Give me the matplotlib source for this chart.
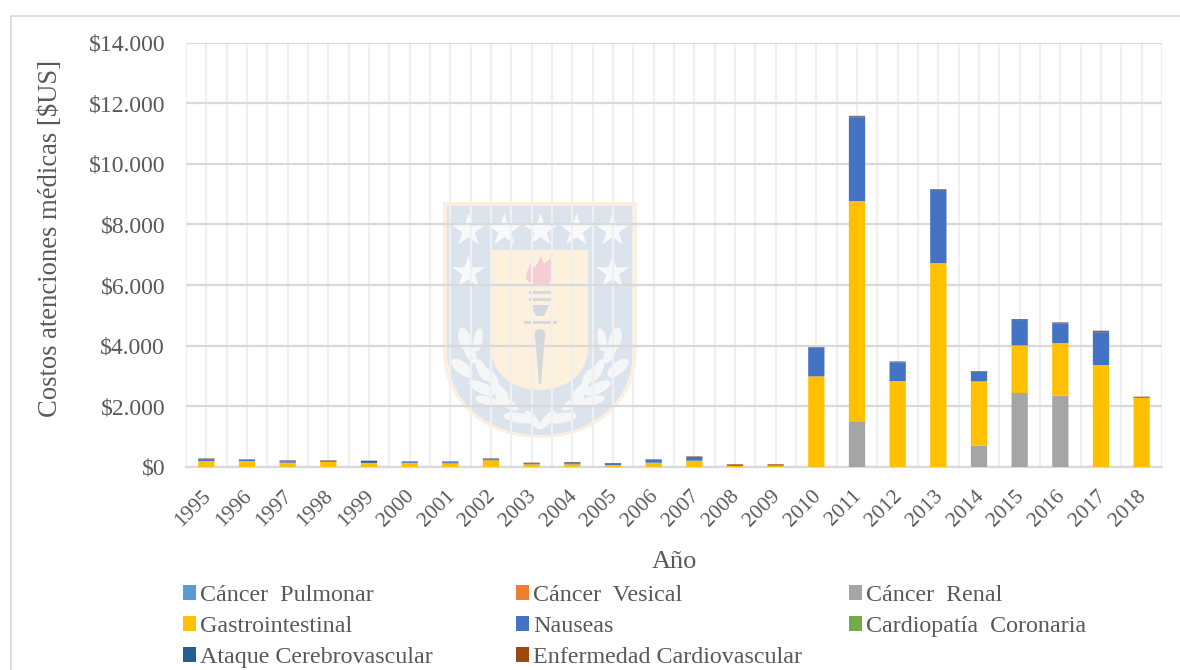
# Costos de atenciones médicas por año, barras apiladas con escudo de fondo

import numpy as np
import matplotlib
matplotlib.use("Agg")
import matplotlib.pyplot as plt
from matplotlib.patches import Ellipse, PathPatch, Polygon
from matplotlib.path import Path
from matplotlib.ticker import FuncFormatter
from matplotlib.transforms import ScaledTranslation

plt.rcParams["font.family"] = ["Liberation Serif", "DejaVu Serif"]

# 1. Datos
years = [str(y) for y in range(1995, 2019)]
renal = [0, 0, 0, 0, 0, 0, 0, 0, 0, 0, 0, 0, 0, 0, 0,
         0, 1484, 0, 0, 703, 2440, 2352, 0, 0]
gastro = [198, 198, 143, 165, 132, 132, 121, 220, 88, 88, 66, 143, 209, 33, 40,
          2989, 7285, 2835, 6725, 2121, 1571, 1736, 3363, 2286]
nauseas = [55, 33, 44, 22, 33, 22, 33, 33, 22, 33, 33, 88, 121, 5, 5,
           945, 2758, 615, 2385, 319, 813, 648, 1077, 0]
pulmonar = [0] * 24
vesical = [0] * 24
cardiopatia = [0] * 24
ataque = [22, 11, 22, 22, 33, 22, 22, 22, 22, 33, 22, 11, 11, 5, 5,
          12, 40, 25, 40, 17, 30, 25, 40, 23]
enfermedad = [11, 11, 11, 11, 11, 11, 11, 11, 11, 11, 11, 11, 11, 45, 38,
              10, 15, 8, 15, 5, 25, 12, 15, 10]

series = [
    ("Cáncer  Pulmonar", pulmonar, "#5B9BD5"),
    ("Cáncer  Vesical", vesical, "#ED7D31"),
    ("Cáncer  Renal", renal, "#A5A5A5"),
    ("Gastrointestinal", gastro, "#FFC000"),
    ("Nauseas", nauseas, "#4472C4"),
    ("Cardiopatía  Coronaria", cardiopatia, "#70AD47"),
    ("Ataque Cerebrovascular", ataque, "#255E91"),
    ("Enfermedad Cardiovascular", enfermedad, "#9E480E"),
]

W, H = 1180, 670
TEXT = "#595959"
GRID_MAJOR = "#D9D9D9"
GRID_MINOR = "#F0F0F0"

fig = plt.figure(figsize=(W / 100, H / 100), dpi=100)

# 2. Fondo en píxeles: marco (solo arriba e izquierda) y escudo
bg = fig.add_axes([0, 0, 1, 1], zorder=0)
bg.set_xlim(0, W)
bg.set_ylim(H, 0)
bg.axis("off")
bg.plot([10.5, 10.5, W], [H, 15.5, 15.5], color="#D9D9D9", lw=1.3)


def shield(x0, x1, top, side, bottom):
    xm = (x0 + x1) / 2
    verts = [(x0, top), (x1, top), (x1, side),
             (x1, side + (bottom - side) * 0.62), (xm + (x1 - xm) * 0.55, bottom), (xm, bottom),
             (xm - (xm - x0) * 0.55, bottom), (x0, side + (bottom - side) * 0.62), (x0, side),
             (x0, top)]
    codes = [Path.MOVETO, Path.LINETO, Path.LINETO,
             Path.CURVE4, Path.CURVE4, Path.CURVE4,
             Path.CURVE4, Path.CURVE4, Path.CURVE4, Path.CLOSEPOLY]
    return Path(verts, codes)


bg.add_patch(PathPatch(shield(443, 637, 202, 350, 438), fc="#FBF0DF", ec="none"))
bg.add_patch(PathPatch(shield(447, 633, 206, 350, 435), fc="#DBE3EC", ec="none"))
bg.add_patch(PathPatch(shield(491, 588, 250, 347, 390), fc="#FDF1DC", ec="none"))

# estrellas
bg.scatter([468, 504, 540, 576, 612, 468, 612], [230, 230, 230, 230, 230, 272, 272],
           marker="*", s=620, color="#F7F9FB", linewidths=0)

# antorcha
flame = [(527, 272), (531, 262), (535, 268), (541, 256), (544, 264), (552, 257),
         (553, 275), (549, 284), (532, 284), (526, 279)]
bg.add_patch(Polygon(flame, fc="#F6CDD3", ec="none"))
for yy, x0, x1 in [(292, 530, 550), (299, 530, 550), (322, 525, 555)]:
    bg.plot([x0, x1], [yy, yy], color="#D3D8DE", lw=2)
bg.fill([531, 549, 544, 536], [305, 305, 316, 316], color="#D3D8DE", lw=0)
bg.fill([535, 545, 541, 539], [335, 335, 384, 384], color="#D3D8DE", lw=0)
bg.add_patch(Ellipse((540, 335), 11, 12, fc="#D3D8DE", ec="none"))

# laureles
leaves = [(465, 340, 12, 26, -15), (478, 340, 9, 24, 10), (470, 352, 10, 24, -25),
          (462, 368, 12, 26, -50), (482, 370, 9, 24, -25), (492, 378, 9, 22, -30),
          (482, 388, 11, 28, -65), (500, 392, 10, 22, -45), (488, 401, 9, 26, -75),
          (507, 403, 9, 26, -60), (520, 418, 10, 34, -82), (533, 420, 8, 24, -40)]
for lx, ly, lw_, lh, ang in leaves:
    bg.add_patch(Ellipse((lx, ly), lw_, lh, angle=ang, fc="#F4F6F8", ec="none"))
    bg.add_patch(Ellipse((1080 - lx, ly), lw_, lh, angle=-ang, fc="#F4F6F8", ec="none"))

# 3. Gráfico principal
left, right, top, bottom = 186, 1162, 42.5, 467
ax = fig.add_axes([left / W, 1 - bottom / H, (right - left) / W, (bottom - top) / H], zorder=1)
ax.patch.set_alpha(0)

x = np.arange(len(years))
base = np.zeros(len(years))
bars = {}
for name, vals, color in series:
    bars[name] = ax.bar(x, vals, 0.4, bottom=base, color=color, label=name, zorder=3, snap=False)
    base += np.array(vals)

ax.set_xlim(-0.5, len(years) - 0.5)
ax.set_ylim(0, 14000)
ax.set_yticks(np.arange(0, 14001, 2000))
ax.yaxis.set_major_formatter(FuncFormatter(lambda v, _: "$" + f"{int(v):,}".replace(",", ".")))
ax.set_xticks(x)
ax.set_xticklabels(years, rotation=45, ha="right", rotation_mode="anchor")
ax.set_xticks(np.arange(-0.5, len(years)), minor=True)

ax.grid(axis="y", color=GRID_MAJOR, lw=1.6, zorder=1)
ax.grid(axis="x", which="major", color=GRID_MINOR, lw=1.6, zorder=1)
ax.grid(axis="x", which="minor", color=GRID_MINOR, lw=1.6, zorder=1)
ax.tick_params(axis="both", which="both", length=0)
ax.tick_params(axis="y", labelsize=17, labelcolor=TEXT, pad=15)
ax.tick_params(axis="x", labelsize=15.5, labelcolor=TEXT, pad=14)
# etiquetas del eje x un poco a la izquierda
shift = ScaledTranslation(-3.5 / 72, 0, fig.dpi_scale_trans)
for lab in ax.get_xticklabels():
    lab.set_transform(lab.get_transform() + shift)
for side in ["top", "left", "right"]:
    ax.spines[side].set_visible(False)
ax.spines["bottom"].set_color(GRID_MAJOR)
ax.spines["bottom"].set_linewidth(1.6)

fig.text(51 / W, 1 - 238.5 / H, "Costos atenciones médicas [$US]", rotation=90,
         ha="center", va="center", fontsize=19.2, color=TEXT)
fig.text(674 / W, 1 - 562 / H, "Año", ha="center", va="center", fontsize=19, color=TEXT)

# 4. Leyenda: tres columnas de igual ancho
columns = [
    (183, ["Cáncer  Pulmonar", "Gastrointestinal", "Ataque Cerebrovascular"]),
    (516, ["Cáncer  Vesical", "Nauseas", "Enfermedad Cardiovascular"]),
    (849, ["Cáncer  Renal", "Cardiopatía  Coronaria"]),
]
for col_x, names in columns:
    leg = fig.legend([bars[n] for n in names], names, loc="upper left",
                     bbox_to_anchor=(col_x / W, 1 - 585 / H), frameon=False,
                     fontsize=17.3, labelcolor=TEXT, handlelength=0.55, handleheight=0.55,
                     handletextpad=0.15, labelspacing=0.42, borderpad=0, borderaxespad=0)

fig.savefig("out.png", dpi=100)
